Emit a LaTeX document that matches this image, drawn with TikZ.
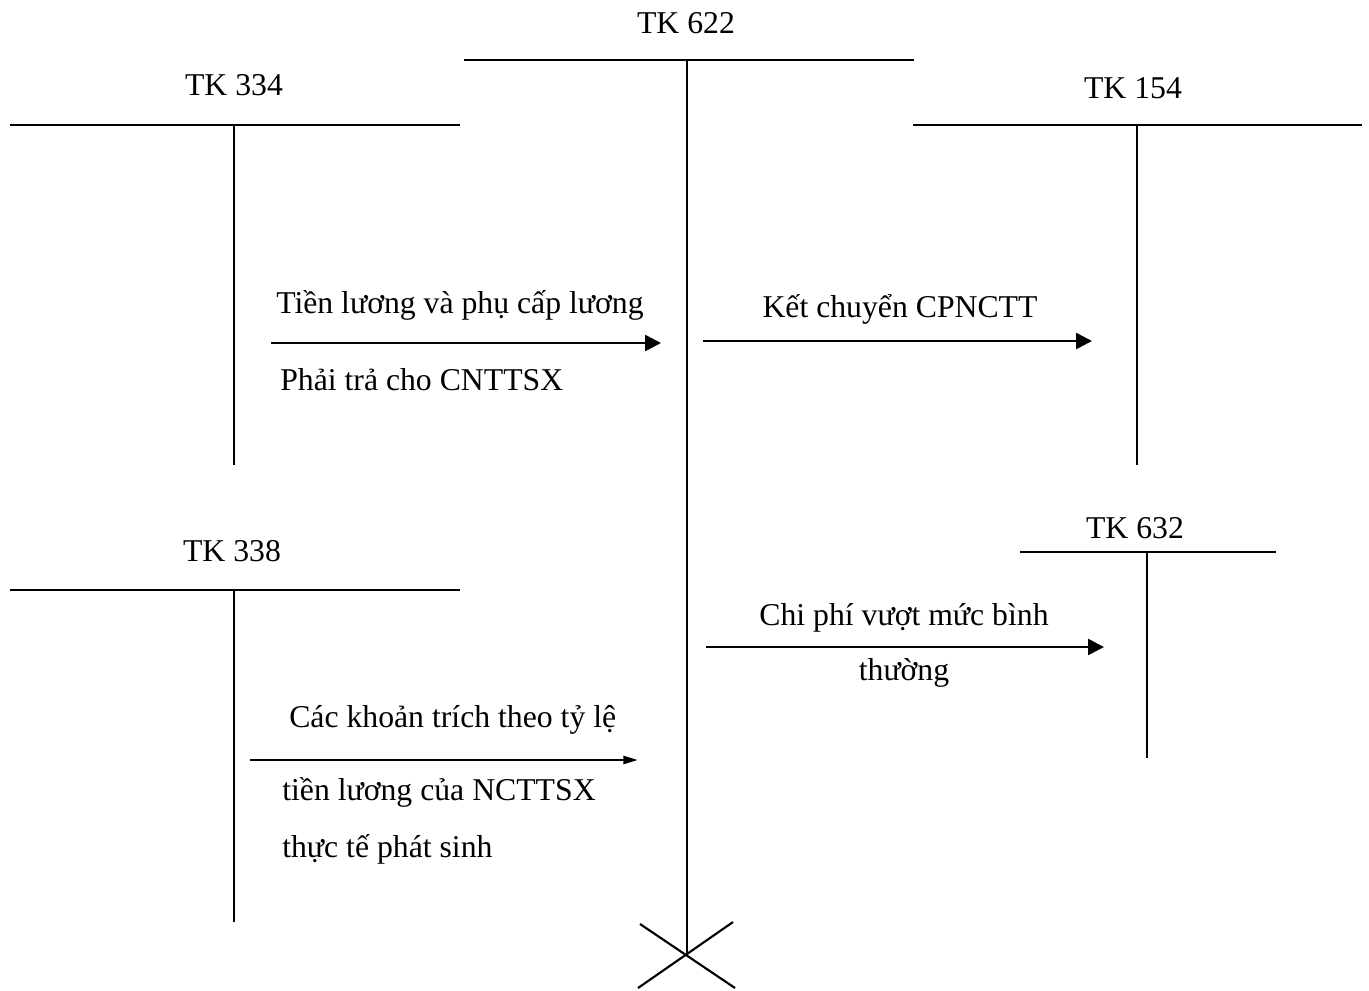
\documentclass[tikz,border=0pt]{standalone}
\usepackage{fontspec}
\setmainfont{Liberation Serif}
\usetikzlibrary{arrows.meta}

\tikzstyle {account} = [line width=1.6pt]
\tikzstyle {title} = [inner sep=0pt, anchor=base]
\tikzstyle {entry} = [inner sep=0pt, anchor=base west]
\tikzstyle {flow} = [line width=1.9pt, -{Triangle[length=12pt, width=12pt]}]

\begin{document}
\begin{tikzpicture}[x=0.75pt, y=-0.75pt, font=\fontsize{23.8}{28}\selectfont]
            \useasboundingbox (0,0) rectangle (1369,990);

            % TK 622
            \node [title] (tk622) at (686,33) {TK 622};
            \coordinate (tk622l) at (464,60);
            \coordinate (tk622r) at (914,60);
            \coordinate (tk622t) at (687,60);
            \coordinate (tk622b) at (687,955);
            \draw [account] (tk622l) -- (tk622r);
            \draw [account] (tk622t) -- (tk622b);
            \draw [account] (640,924) -- (735,988);
            \draw [account] (733,922) -- (638,988);

            % TK 334
            \node [title] (tk334) at (234,95) {TK 334};
            \coordinate (tk334l) at (10,125);
            \coordinate (tk334r) at (460,125);
            \coordinate (tk334t) at (234,125);
            \coordinate (tk334b) at (234,465);
            \draw [account] (tk334l) -- (tk334r);
            \draw [account] (tk334t) -- (tk334b);

            % TK 154
            \node [title] (tk154) at (1133,98) {TK 154};
            \coordinate (tk154l) at (913,125);
            \coordinate (tk154r) at (1362,125);
            \coordinate (tk154t) at (1137,125);
            \coordinate (tk154b) at (1137,465);
            \draw [account] (tk154l) -- (tk154r);
            \draw [account] (tk154t) -- (tk154b);

            % TK 338
            \node [title] (tk338) at (232,561) {TK 338};
            \coordinate (tk338l) at (10,590);
            \coordinate (tk338r) at (460,590);
            \coordinate (tk338t) at (234,590);
            \coordinate (tk338b) at (234,922);
            \draw [account] (tk338l) -- (tk338r);
            \draw [account] (tk338t) -- (tk338b);

            % TK 632
            \node [title] (tk632) at (1135,538) {TK 632};
            \coordinate (tk632l) at (1020,552);
            \coordinate (tk632r) at (1276,552);
            \coordinate (tk632t) at (1147,552);
            \coordinate (tk632b) at (1147,758);
            \draw [account] (tk632l) -- (tk632r);
            \draw [account] (tk632t) -- (tk632b);

            % 334 -> 622
            \coordinate (luongs) at (271,343);
            \coordinate (luonge) at (661,343);
            \draw [flow] (luongs) -- (luonge);
            \node [entry] (luong1) at (276,313) {Tiền lương và phụ cấp lương};
            \node [entry] (luong2) at (280,390) {Phải trả cho CNTTSX};

            % 622 -> 154
            \coordinate (kets) at (703,341);
            \coordinate (kete) at (1092,341);
            \draw [flow] (kets) -- (kete);
            \node [title] (ket) at (900,317) {Kết chuyển CPNCTT};

            % 622 -> 632
            \coordinate (vuots) at (706,647);
            \coordinate (vuote) at (1104,647);
            \draw [flow] (vuots) -- (vuote);
            \node [title] (vuot1) at (904,625) {Chi phí vượt mức bình};
            \node [title] (vuot2) at (904,680) {thường};

            % 338 -> 622
            \coordinate (trichs) at (250,760);
            \coordinate (triche) at (638,760);
            \draw [flow, -{Triangle[length=11pt, width=6pt]}] (trichs) -- (triche);
            \node [entry] (trich1) at (289,727) {Các khoản trích theo tỷ lệ};
            \node [entry] (trich2) at (282,800) {tiền lương của NCTTSX};
            \node [entry] (trich3) at (282,857) {thực tế phát sinh};
        \end{tikzpicture}
\end{document}
